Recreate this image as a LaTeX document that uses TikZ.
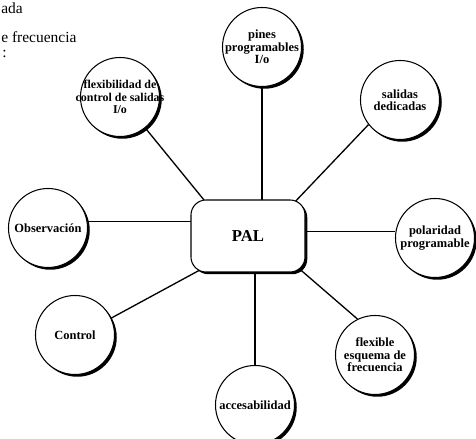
\documentclass[tikz,border=0pt]{standalone}
\usepackage{fontspec}
\setmainfont{Liberation Serif}
\usetikzlibrary{calc,shadows,backgrounds}

\begin{document}
\begin{tikzpicture}[x=1cm,y=1cm,
 shade/.style={drop shadow={shadow xshift=.045cm,shadow yshift=-.045cm,fill=black,opacity=1}},
 bub/.style={circle,draw,line width=.6pt,fill=white,minimum size=1.58cm,inner sep=-6pt,align=center,
  font=\fontsize{7.1}{7.1}\selectfont\bfseries,shade},
 link/.style={line width=.75pt}]
 \useasboundingbox (0,0) rectangle (9.52,8.78);
 \node[anchor=base west,inner sep=0,font=\fontsize{8.8}{10}\selectfont] (top1) at (.02,8.50) {ada};
 \node[anchor=base west,inner sep=0,font=\fontsize{8.8}{10}\selectfont] (top2) at (.02,7.92) {e frecuencia};
 \node[anchor=base west,inner sep=0,font=\fontsize{8.8}{10}\selectfont] (top3) at (.04,7.62) {:};
 \node[draw,rounded corners=.3cm,fill=white,minimum width=2.28cm,minimum height=1.44cm,line width=.6pt,
  font=\fontsize{9.5}{11}\selectfont\bfseries,shade] (pal) at (4.96,4.06) {PAL};
 \node[bub] (pin) at (5.24,7.84) {pines\\programables\\I/o};
 \node[bub] (sal) at (8.00,6.78) {salidas\\dedicadas};
 \node[bub] (pol) at (8.70,4.02) {polaridad\\programable};
 \node[bub] (fle) at (7.50,1.68) {flexible\\esquema de\\frecuencia};
 \node[bub] (acc) at (5.10,.68) {accesabilidad};
 \node[bub] (ctl) at (1.50,2.08) {Control};
 \node[bub] (obs) at (.96,4.22) {Observación};
 \node[bub,font=\fontsize{6.8}{7}\selectfont\bfseries] (flx) at (2.40,6.84) {flexibilidad de\\control de salidas\\I/o};
 \begin{scope}[on background layer]
  \draw[link] (pin) -- (pin |- pal);
  \draw[link] (sal.218) -- ($(pal.north east)+(-.28,-.12)$);
  \draw[link] (pol.171) -- (pol.171 -| pal);
  \draw[link] (fle.116) -- ($(pal.south east)+(-.2,.14)$);
  \draw[link] (acc) -- (acc |- pal);
  \draw[link] (ctl.25) -- ($(pal.south west)+(.28,.1)$);
  \draw[link] (obs.9) -- (obs.9 -| pal);
  \draw[link] (flx) -- ($(pal.north west)+(.36,-.12)$);
 \end{scope}
\end{tikzpicture}
\end{document}
